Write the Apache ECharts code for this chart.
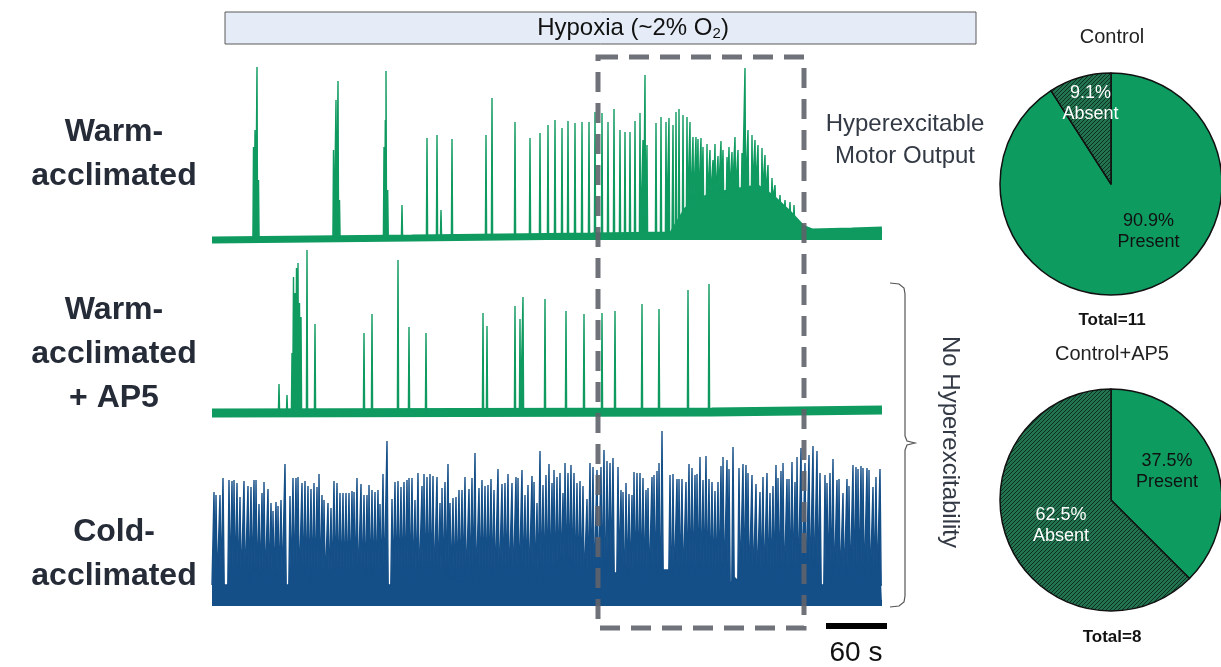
<!DOCTYPE html>
<html>
<head>
<meta charset="utf-8">
<script src="https://cdn.jsdelivr.net/npm/echarts@6/dist/echarts.min.js"></script>
<style>
  html, body { margin: 0; padding: 0; background: #fff; }
  #main { width: 1221px; height: 667px; }
</style>
</head>
<body>
<div id="main"></div>
<script>
// time in seconds (x), amplitude in arbitrary units above each trace's baseline (y)
const traceEnd = 670;

// warm-acclimated
const warmBaseT = [0, 200, 380, 460, 475, 495, 520, 534, 545, 560, 575, 590, 600, 640, 670];
const warmBaseV = [0, 2, 4, 5, 30, 42, 48, 50, 52, 42, 28, 12, 8, 9, 10];
const warmSpikeT = [41.5, 43, 45, 46.5, 121.5, 124, 126, 127.5, 172, 173.3, 174, 175.7, 190, 215, 225, 229,
  240, 274, 280, 303, 318, 328, 336, 343, 350, 356, 363, 370, 377, 383, 390, 396, 402, 408, 413, 418, 423,
  428, 431, 433, 435, 444, 449, 454, 457, 461, 464, 467, 471, 475, 478, 481, 484, 486, 489, 491, 495, 498,
  501, 503, 506, 509, 511, 515, 517, 520, 523, 526, 530, 533, 536, 540, 543, 546, 550, 553, 556, 560, 563,
  568, 573, 578, 582, 586];
const warmSpikeH = [93, 110, 173, 60, 90, 140, 159, 40, 93, 120, 169, 50, 35, 102, 105, 30,
  101, 105, 142, 118, 102, 107, 115, 120, 112, 119, 117, 118, 118, 128, 127, 118, 131, 110, 108, 108, 119,
  127, 100, 165, 95, 117, 123, 118, 122, 115, 128, 131, 125, 123, 118, 103, 103, 101, 102, 93, 96, 90,
  80, 96, 84, 99, 90, 83, 93, 88, 103, 90, 87, 172, 110, 105, 100, 95, 92, 85, 75, 62, 55,
  45, 40, 38, 35, 20];

// warm-acclimated + AP5
const ap5BaseT = [0, 500, 670];
const ap5BaseV = [0, 1, 3];
const ap5SpikeT = [67, 75, 80, 81.5, 83, 84.5, 86, 87.5, 89, 95, 103, 152, 160, 186, 197, 214, 271, 275,
  303, 308, 311, 333, 354, 372, 390, 403, 430, 447, 476, 497];
const ap5SpikeH = [29, 18, 60, 136, 120, 145, 150, 110, 96, 163, 89, 80, 99, 153, 86, 80, 100, 87,
  107, 94, 116, 114, 102, 99, 100, 102, 109, 104, 123, 129];

// cold-acclimated
const coldBaseT = [0, 345, 348, 358, 362, 392, 395, 410, 413, 448, 452, 456, 460, 518, 522, 530, 670];
const coldBaseV = [18, 18, 28, 28, 18, 18, 30, 30, 18, 18, 33, 33, 18, 18, 26, 18, 18];
const coldSpikeT = [2, 4, 8, 11, 17, 20, 22, 25, 28, 32, 36, 39, 42, 44, 47, 50, 52, 56, 59, 61, 64, 66, 69,
  73, 78, 81, 84, 86, 90, 93, 96, 99, 102, 105, 107, 110, 112, 116, 119, 122, 125, 128, 131, 134, 137, 140,
  142, 145, 149, 152, 155, 157, 160, 163, 166, 168, 171, 175, 180, 183, 186, 189, 192, 195, 197, 200, 203,
  206, 210, 212, 215, 218, 221, 225, 228, 230, 233, 236, 238, 241, 244, 247, 250, 253, 257, 260, 263, 267,
  270, 273, 276, 279, 282, 286, 290, 293, 296, 300, 304, 306, 310, 313, 316, 320, 322, 325, 328, 331, 334,
  337, 340, 342, 345, 348, 351, 353, 356, 359, 362, 365, 368, 371, 375, 378, 381, 385, 389, 392, 395, 398,
  401, 406, 409, 411, 414, 417, 420, 422, 425, 428, 431, 434, 436, 440, 442, 445, 447, 450, 458, 461, 465,
  467, 470, 474, 477, 480, 483, 485, 488, 491, 494, 497, 500, 503, 506, 509, 511, 515, 517, 521, 527, 531,
  534, 536, 540, 544, 548, 551, 555, 558, 561, 564, 566, 569, 571, 575, 577, 580, 583, 585, 589, 593, 597,
  601, 605, 608, 613, 615, 618, 621, 625, 627, 631, 635, 637, 641, 644, 646, 649, 651, 655, 657, 661, 664, 668];
const coldSpikeH = [111, 108, 108, 125, 123, 122, 123, 120, 106, 122, 117, 116, 123, 123, 99, 110, 121, 114,
  100, 92, 101, 97, 103, 139, 107, 125, 125, 126, 120, 122, 117, 114, 120, 116, 129, 108, 103, 100, 95, 122,
  120, 110, 110, 110, 110, 112, 111, 125, 119, 108, 108, 118, 113, 111, 113, 99, 129, 162, 104, 121, 122,
  116, 121, 123, 125, 125, 103, 130, 117, 129, 126, 129, 127, 126, 100, 115, 121, 139, 100, 105, 106, 113,
  113, 126, 114, 125, 150, 115, 123, 117, 118, 124, 113, 134, 119, 120, 129, 120, 126, 125, 133, 108, 118,
  127, 121, 100, 152, 118, 128, 139, 120, 133, 126, 130, 110, 140, 130, 138, 130, 120, 122, 117, 104, 140,
  136, 133, 136, 153, 142, 140, 145, 136, 113, 111, 120, 109, 108, 131, 130, 130, 125, 113, 115, 126, 128,
  132, 140, 172, 128, 129, 124, 124, 124, 121, 139, 135, 128, 129, 146, 123, 147, 124, 121, 112, 121, 137,
  146, 143, 134, 156, 135, 139, 138, 130, 128, 119, 111, 126, 130, 110, 117, 138, 125, 132, 140, 124, 124,
  141, 121, 146, 155, 140, 148, 157, 152, 130, 128, 120, 130, 144, 123, 124, 110, 124, 117, 138, 136, 134,
  137, 135, 135, 133, 116, 126, 134];

// pies: counts of preparations with / without hyperexcitable output
const pieCategories = ['Present', 'Absent'];
const controlCounts = [10, 1];
const ap5Counts = [3, 5];

const warmColor = '#0f9a60';
const coldColor = '#154f88';
const pieGreen = '#0d9b60';
const textDark = '#252b37';
const font = '"Liberation Sans", Arial, sans-serif';

function baseAt(ts, vs, t) {
  if (t <= ts[0]) return vs[0];
  for (let i = 1; i < ts.length; i++) {
    if (t <= ts[i]) {
      const k = (t - ts[i - 1]) / (ts[i] - ts[i - 1]);
      return vs[i - 1] + k * (vs[i] - vs[i - 1]);
    }
  }
  return vs[vs.length - 1];
}

// baseline points + one narrow triangle per spike, x kept monotonic
function buildTrace(baseT, baseV, spikeT, spikeH, half) {
  const events = [];
  baseT.forEach((t, i) => {
    const covered = spikeT.some((s) => Math.abs(s - t) <= half);
    if (!covered) events.push({ t, pts: [[t, baseV[i]]] });
  });
  spikeT.forEach((t, i) => {
    events.push({
      t,
      pts: [
        [t - half, baseAt(baseT, baseV, t - half)],
        [t, spikeH[i]],
        [t + half, baseAt(baseT, baseV, t + half)],
      ],
    });
  });
  events.sort((a, b) => a.t - b.t);
  const out = [];
  let lastX = -Infinity;
  events.forEach((e) => e.pts.forEach(([x, y]) => {
    const cx = Math.max(x, lastX);
    lastX = cx;
    out.push([cx, y]);
  }));
  return out;
}

function hatch() {
  const c = document.createElement('canvas');
  c.width = 4;
  c.height = 4;
  const g = c.getContext('2d');
  g.fillStyle = '#24734f';
  g.fillRect(0, 0, 4, 4);
  g.strokeStyle = '#0b3023';
  g.lineWidth = 1;
  g.beginPath();
  g.moveTo(-1, 5); g.lineTo(5, -1);
  g.moveTo(-3, 3); g.lineTo(3, -3);
  g.moveTo(1, 7); g.lineTo(7, 1);
  g.stroke();
  return c;
}
const hatchFill = { image: hatch(), repeat: 'repeat' };

function traceSeries(idx, data, base, color, bandWidth) {
  return [
    {
      type: 'line',
      xAxisIndex: idx,
      yAxisIndex: idx,
      data: base,
      showSymbol: false,
      silent: true,
      lineStyle: { color, width: bandWidth },
      z: 2,
    },
    {
      type: 'line',
      xAxisIndex: idx,
      yAxisIndex: idx,
      data,
      showSymbol: false,
      silent: true,
      sampling: 'none',
      lineStyle: { color, width: 1.4 },
      areaStyle: { color, opacity: 1 },
      z: 3,
    },
  ];
}

function pieSeries(center, counts, offsets) {
  return {
    type: 'pie',
    center,
    radius: 111,
    startAngle: 90,
    clockwise: true,
    silent: true,
    percentPrecision: 1,
    itemStyle: { borderColor: '#111', borderWidth: 1.5 },
    label: {
      show: true,
      position: 'inside',
      formatter: '{d}%\n{b}',
      fontFamily: font,
      fontSize: 18,
      lineHeight: 21,
    },
    labelLine: { show: false },
    data: pieCategories.map((name, i) => ({
      name,
      value: counts[i],
      itemStyle: { color: i === 0 ? pieGreen : hatchFill },
      label: { color: i === 0 ? '#111' : '#fff', offset: offsets[i] },
    })),
  };
}

const grids = [
  { left: 212, width: 670, top: 60, height: 188 },
  { left: 212, width: 670, top: 245, height: 180 },
  { left: 212, width: 670, top: 425, height: 185 },
];
const yRanges = [[-8, 180], [-12, 168], [-7, 178]];

const chart = echarts.init(document.getElementById('main'), null, { renderer: 'canvas' });

const labelStyle = (text) => ({
  text, font: 'bold 32px ' + font, lineHeight: 44, fill: textDark, align: 'center', verticalAlign: 'middle',
});

const option = {
  animation: false,
  grid: grids,
  xAxis: grids.map((g, i) => ({ gridIndex: i, type: 'value', min: 0, max: traceEnd, show: false })),
  yAxis: yRanges.map((r, i) => ({ gridIndex: i, type: 'value', min: r[0], max: r[1], show: false })),
  series: [
    ...traceSeries(0, buildTrace(warmBaseT, warmBaseV, warmSpikeT, warmSpikeH, 0.6),
      warmBaseT.map((t, i) => [t, warmBaseV[i]]), warmColor, 7),
    ...traceSeries(1, buildTrace(ap5BaseT, ap5BaseV, ap5SpikeT, ap5SpikeH, 0.6),
      ap5BaseT.map((t, i) => [t, ap5BaseV[i]]), warmColor, 9),
    ...traceSeries(2, buildTrace(coldBaseT, coldBaseV, coldSpikeT, coldSpikeH, 1.2),
      coldBaseT.map((t, i) => [t, 0]), coldColor, 6),
    pieSeries([1111, 184], controlCounts, [[21, -9], [-4, -24]]),
    pieSeries([1111, 500], ap5Counts, [[2, -6], [4, 3]]),
  ],
  graphic: [
    // hypoxia bar
    {
      type: 'rect', z: 50,
      shape: { x: 225, y: 12, width: 751, height: 32 },
      style: { fill: '#e5ecf7', stroke: '#5a5a5a', lineWidth: 1 },
    },
    {
      type: 'text', z: 51, x: 633, y: 28,
      style: {
        text: '{a|Hypoxia (~2% O}{s|2}{a|)}',
        align: 'center', verticalAlign: 'middle',
        rich: {
          a: { fontFamily: font, fontSize: 24, lineHeight: 26, fill: '#111', verticalAlign: 'middle' },
          s: { fontFamily: font, fontSize: 15, lineHeight: 16, fill: '#111', verticalAlign: 'bottom' },
        },
      },
    },
    // row labels
    { type: 'text', x: 114, y: 154, style: labelStyle('Warm-\nacclimated') },
    { type: 'text', x: 114, y: 354, style: labelStyle('Warm-\nacclimated\n+ AP5') },
    { type: 'text', x: 114, y: 554, style: labelStyle('Cold-\nacclimated') },
    {
      type: 'text', x: 905, y: 140,
      style: { text: 'Hyperexcitable\nMotor Output', font: '24px ' + font, lineHeight: 32, fill: '#333a45', align: 'center', verticalAlign: 'middle' },
    },
    // bracket + rotated label
    {
      type: 'polyline', z: 20,
      shape: { points: [[890, 283], [899, 284], [904, 288], [905, 294], [905, 436], [907, 441], [915, 443],
        [907, 445], [905, 450], [905, 596], [904, 602], [899, 606], [890, 607]] },
      style: { fill: null, stroke: '#555', lineWidth: 1.2 },
    },
    {
      type: 'text', x: 950, y: 442, rotation: -Math.PI / 2,
      style: { text: 'No Hyperexcitability', font: '24px ' + font, fill: '#333a45', align: 'center', verticalAlign: 'middle' },
    },
    // dashed hypoxia window
    {
      type: 'rect', z: 100,
      shape: { x: 598, y: 57, width: 206, height: 571 },
      style: { fill: null, stroke: '#5f636a', opacity: 0.9, lineWidth: 5, lineDash: [20, 11] },
    },
    // scale bar
    {
      type: 'rect', z: 20,
      shape: { x: 826, y: 623, width: 61, height: 6 },
      style: { fill: '#000' },
    },
    {
      type: 'text', x: 856, y: 653,
      style: { text: '60 s', font: '28px ' + font, fill: '#111', align: 'center', verticalAlign: 'middle' },
    },
    // pie titles
    {
      type: 'text', x: 1112, y: 37,
      style: { text: 'Control', font: '20px ' + font, fill: '#222', align: 'center', verticalAlign: 'middle' },
    },
    {
      type: 'text', x: 1112, y: 320,
      style: { text: 'Total=11', font: 'bold 17px ' + font, fill: '#111', align: 'center', verticalAlign: 'middle' },
    },
    {
      type: 'text', x: 1112, y: 354,
      style: { text: 'Control+AP5', font: '20px ' + font, fill: '#222', align: 'center', verticalAlign: 'middle' },
    },
    {
      type: 'text', x: 1112, y: 637,
      style: { text: 'Total=8', font: 'bold 17px ' + font, fill: '#111', align: 'center', verticalAlign: 'middle' },
    },
  ],
};

chart.setOption(option);
</script>
</body>
</html>
